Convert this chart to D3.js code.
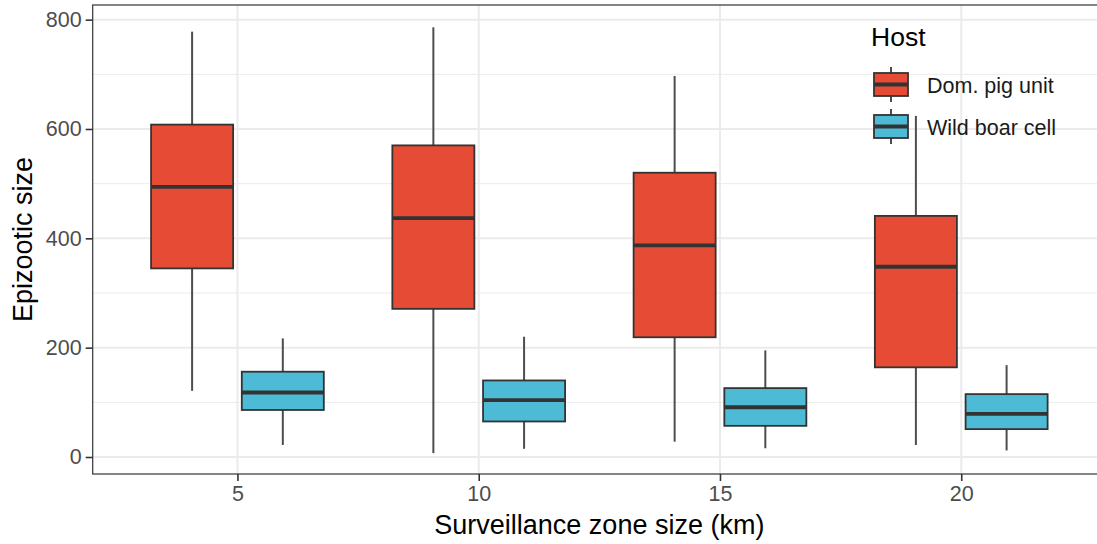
<!DOCTYPE html>
<html>
<head>
<meta charset="utf-8">
<script src="https://cdn.jsdelivr.net/npm/d3@7"></script>
<style>
  html, body { margin: 0; padding: 0; background: #ffffff; }
  svg { display: block; font-family: "Liberation Sans", Arial, Helvetica, sans-serif; }
</style>
</head>
<body>
<svg id="chart" width="1097" height="544"></svg>
<script>
// ---- data ----
const zoneSizes = [5, 10, 15, 20];
const hosts = ["Dom. pig unit", "Wild boar cell"];
const hostColors = ["#E64B35", "#4DBBD5"];
// [lower whisker, Q1, median, Q3, upper whisker] per zone size
const pigStats = [
  [121, 345, 494, 608, 778],
  [7, 271, 437, 570, 786],
  [28, 219, 387, 520, 697],
  [22, 164, 348, 441, 624]
];
const boarStats = [
  [22, 86, 118, 156, 217],
  [15, 65, 104, 140, 220],
  [16, 57, 91, 126, 195],
  [12, 51, 79, 115, 168]
];
const yTicks = [0, 200, 400, 600, 800];
const yMinor = [100, 300, 500, 700];
const xTicks = [5, 10, 15, 20];
const xTitle = "Surveillance zone size (km)";
const yTitle = "Epizootic size";
const legendTitle = "Host";

// ---- layout ----
const panel = { left: 92.7, right: 1106, top: 5, bottom: 474 };
const dodge = 0.94, boxW = 1.7;

const svg = d3.select("#chart");
const x = d3.scaleLinear().domain([2, 23]).range([panel.left, panel.right]);
const y = d3.scaleLinear().domain([-31.1, 826.8]).range([panel.bottom, panel.top]);

// grid
const grid = svg.append("g");
grid.selectAll(".ymin").data(yMinor).join("line")
  .attr("x1", panel.left).attr("x2", panel.right)
  .attr("y1", d => y(d)).attr("y2", d => y(d))
  .attr("stroke", "#ebebeb").attr("stroke-width", 1);
grid.selectAll(".ymaj").data(yTicks).join("line")
  .attr("x1", panel.left).attr("x2", panel.right)
  .attr("y1", d => y(d)).attr("y2", d => y(d))
  .attr("stroke", "#ebebeb").attr("stroke-width", 2);
grid.selectAll(".xmaj").data(xTicks).join("line")
  .attr("y1", panel.top).attr("y2", panel.bottom)
  .attr("x1", d => x(d)).attr("x2", d => x(d))
  .attr("stroke", "#ebebeb").attr("stroke-width", 2);

// boxes
const series = [
  { name: hosts[0], color: hostColors[0], stats: pigStats, off: -dodge },
  { name: hosts[1], color: hostColors[1], stats: boarStats, off: dodge }
];
const items = [];
series.forEach(s => s.stats.forEach((st, i) => items.push({ cx: zoneSizes[i] + s.off, st, color: s.color })));

const boxes = svg.append("g").selectAll("g").data(items).join("g");
boxes.append("line")
  .attr("x1", d => x(d.cx)).attr("x2", d => x(d.cx))
  .attr("y1", d => y(d.st[3])).attr("y2", d => y(d.st[4]))
  .attr("stroke", "#4d4d4d").attr("stroke-width", 2);
boxes.append("line")
  .attr("x1", d => x(d.cx)).attr("x2", d => x(d.cx))
  .attr("y1", d => y(d.st[0])).attr("y2", d => y(d.st[1]))
  .attr("stroke", "#4d4d4d").attr("stroke-width", 2);
boxes.append("rect")
  .attr("x", d => x(d.cx - boxW / 2)).attr("width", d => x(d.cx + boxW / 2) - x(d.cx - boxW / 2))
  .attr("y", d => y(d.st[3])).attr("height", d => y(d.st[1]) - y(d.st[3]))
  .attr("fill", d => d.color).attr("stroke", "#333333").attr("stroke-width", 1.8);
boxes.append("line")
  .attr("x1", d => x(d.cx - boxW / 2)).attr("x2", d => x(d.cx + boxW / 2))
  .attr("y1", d => y(d.st[2])).attr("y2", d => y(d.st[2]))
  .attr("stroke", "#333333").attr("stroke-width", 3.8);

// panel border
svg.append("rect")
  .attr("x", panel.left).attr("y", panel.top)
  .attr("width", panel.right - panel.left).attr("height", panel.bottom - panel.top)
  .attr("fill", "none").attr("stroke", "#333333").attr("stroke-width", 1.2);

// axes
const yAxis = svg.append("g")
  .attr("transform", `translate(${panel.left},0)`)
  .call(d3.axisLeft(y).tickValues(yTicks).tickSize(7).tickPadding(4));
const xAxis = svg.append("g")
  .attr("transform", `translate(0,${panel.bottom})`)
  .call(d3.axisBottom(x).tickValues(xTicks).tickSize(7).tickPadding(5));
[yAxis, xAxis].forEach(a => {
  a.select(".domain").remove();
  a.selectAll(".tick line").attr("stroke", "#333333").attr("stroke-width", 1.6);
  a.selectAll(".tick text").attr("fill", "#4d4d4d").style("font-size", "21.5px")
    .style("font-family", "'Liberation Sans', Arial, sans-serif");
});

// axis titles
svg.append("text")
  .attr("x", (panel.left + panel.right) / 2).attr("y", 534)
  .attr("text-anchor", "middle").attr("fill", "#000").style("font-size", "27px")
  .text(xTitle);
svg.append("text")
  .attr("transform", `translate(32,${(panel.top + panel.bottom) / 2}) rotate(-90)`)
  .attr("text-anchor", "middle").attr("fill", "#000").style("font-size", "27px")
  .text(yTitle);

// legend
const leg = svg.append("g");
leg.append("text").attr("x", 871).attr("y", 45.5).attr("fill", "#000")
  .style("font-size", "26.5px").text(legendTitle);
const keyCY = [84.5, 126.5];
const keys = leg.selectAll("g.key").data(hosts).join("g")
  .attr("transform", (d, i) => `translate(891,${keyCY[i]})`);
keys.append("line").attr("x1", 0).attr("x2", 0).attr("y1", -17.5).attr("y2", 17.5)
  .attr("stroke", "#4d4d4d").attr("stroke-width", 2);
keys.append("rect").attr("x", -17).attr("y", -11.5).attr("width", 34).attr("height", 23)
  .attr("fill", (d, i) => hostColors[i]).attr("stroke", "#333333").attr("stroke-width", 1.8);
keys.append("line").attr("x1", -17).attr("x2", 17).attr("y1", 0).attr("y2", 0)
  .attr("stroke", "#333333").attr("stroke-width", 3.8);
keys.append("text").attr("x", 36).attr("y", 8).attr("fill", "#1a1a1a")
  .style("font-size", "21.5px").text(d => d);
</script>
</body>
</html>
